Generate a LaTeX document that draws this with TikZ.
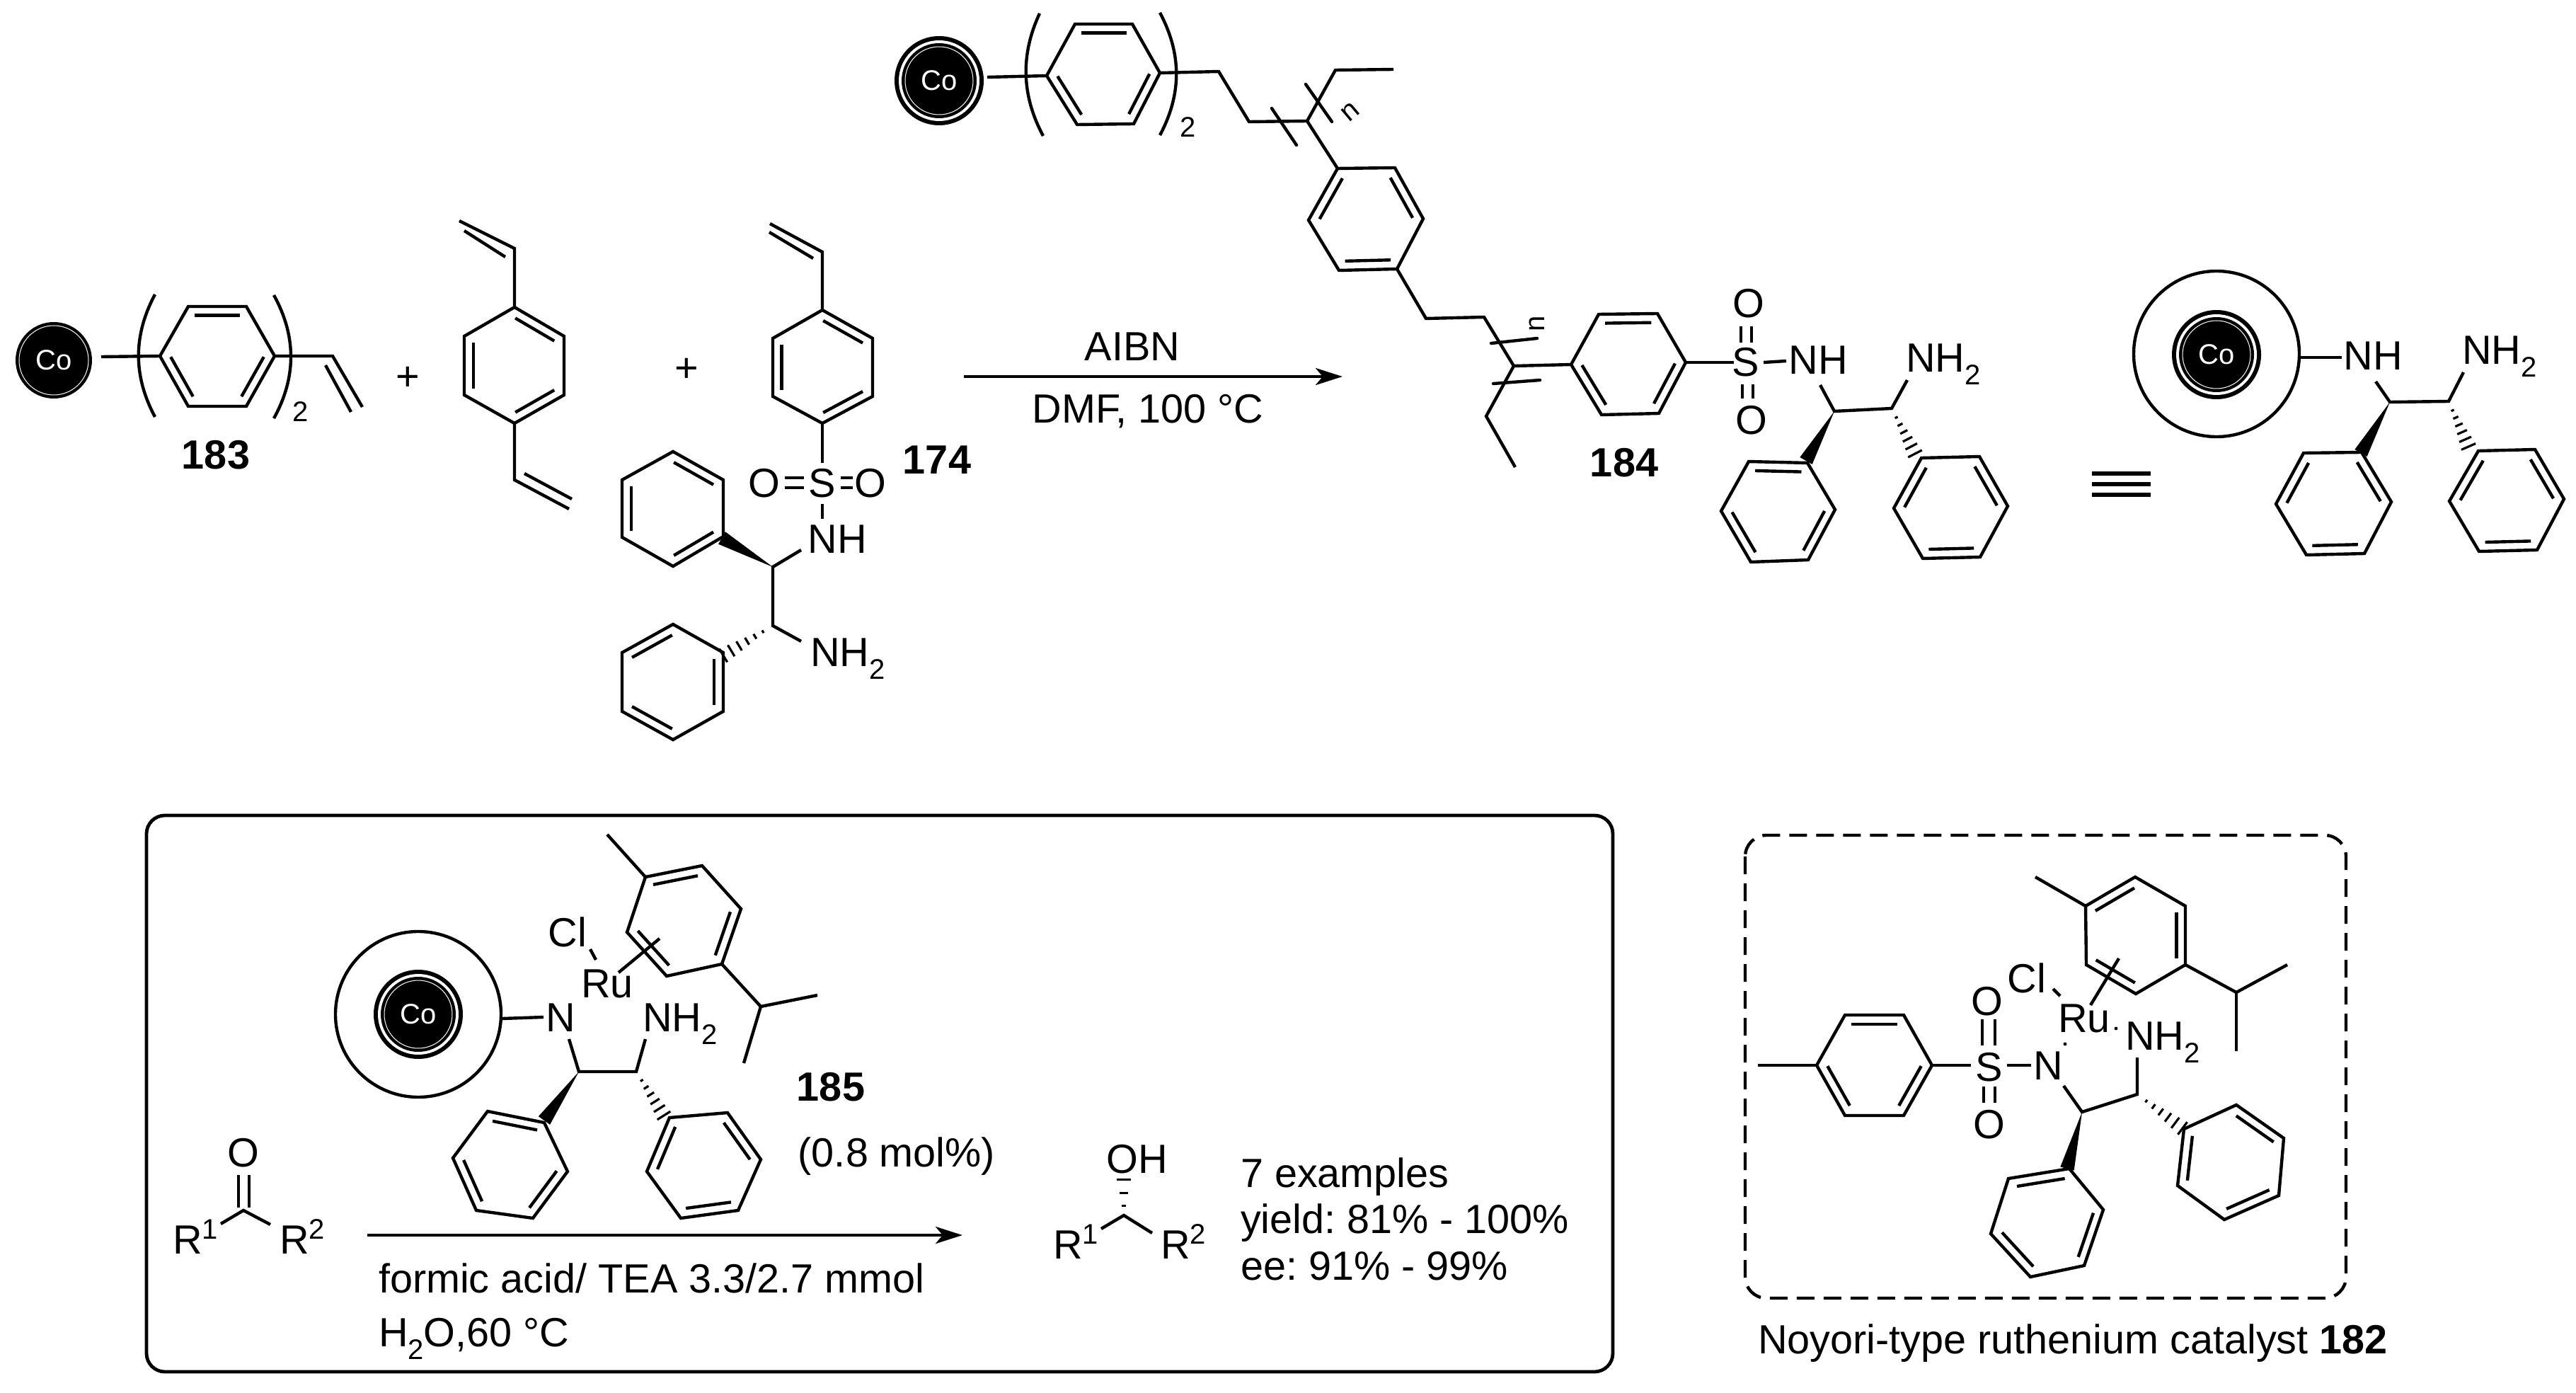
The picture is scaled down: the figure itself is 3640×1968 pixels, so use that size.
\documentclass[tikz,border=0pt]{standalone}
\usepackage{fontspec}
\setmainfont{Liberation Sans}
\usetikzlibrary{calc,arrows.meta}
\frenchspacing
\newcommand{\subtwo}{\raisebox{-9pt}{\fontsize{20}{20}\selectfont 2}}
\newcommand{\suptxt}[1]{\raisebox{10.5pt}{\fontsize{20}{20}\selectfont #1}}
% named points
\newcommand{\pts}[1]{\foreach \n/\x/\y in {#1} {\coordinate (\n) at (\x,\y);}}
% aromatic ring: 6 vertices, double bonds inside edges 1-2, 3-4, 5-6
\newcommand{\ringb}[2]{%
  \foreach \x/\y [count=\i] in {#2} {\coordinate (#1\i) at (\x,\y);}
  \coordinate (#1c) at ($(#11)!.5!(#14)$);
  \draw[bond] (#11)--(#12)--(#13)--(#14)--(#15)--(#16)--cycle;
  \foreach \a/\b in {1/2,3/4,5/6} {
    \draw[bond] ($($(#1\a)!.02!(#1\b)$)!.18!(#1c)$) -- ($($(#1\b)!.02!(#1\a)$)!.18!(#1c)$);
  }}
% wedge and hashed bonds
\newcommand{\wedgeb}[2]{\fill ($(#2)!5pt!90:(#1)$) -- (#1) -- ($(#2)!5pt!-90:(#1)$) -- cycle;}
\newcommand{\hashb}[3][.2,.36,.52,.68,.84,1]{%
  \coordinate (hu) at ($(#3)!5.5pt!90:(#2)$);
  \coordinate (hv) at ($(#3)!5.5pt!-90:(#2)$);
  \foreach \t in {#1} {\draw[line width=1.6pt] ($(#2)!\t!(hu)$) -- ($(#2)!\t!(hv)$);}}
% Co bead
\newcommand{\cobead}[3]{%
  \coordinate (#1) at (#2,#3);
  \fill[black] (#1) circle[radius=31.5pt];
  \fill[white] (#1) circle[radius=28.5pt];
  \fill[black] (#1) circle[radius=26.5pt];
  \draw[white,line width=.5pt] (#1) circle[radius=24pt];
  \node[cotxt] (#1t) at (#1) {Co};}
\begin{document}
\begin{tikzpicture}[x=.5pt,y=-.5pt,
  bond/.style={line width=2.2pt,line join=miter,line cap=butt,black},
  lab/.style={inner sep=0pt,outer sep=0pt,anchor=base,font=\fontsize{28.8}{30}\selectfont,black},
  labl/.style={lab,anchor=base west},
  num/.style={lab,font=\fontsize{28.8}{30}\selectfont\bfseries},
  small/.style={lab,font=\fontsize{20}{20}\selectfont},
  cotxt/.style={inner sep=0pt,text=white,font=\fontsize{20}{20}\selectfont},
  rxn/.style={line width=2.2pt,-{Stealth[length=19pt,width=12pt,inset=5pt]}},
  bigbead/.style={line width=2.2pt,draw=black},
  framebox/.style={line width=2.4pt,rounded corners=13pt,draw=black},
  dashbox/.style={line width=2.2pt,rounded corners=15pt,draw=black,dash pattern=on 12.5pt off 6.5pt}
]
\fill[white] (0,0) rectangle (3640,1968);
\path[use as bounding box] (0,0) rectangle (3640,1968);

%%% 183
\coordinate (cA) at (76,509);
\fill[black] (cA) circle[radius=27pt];
\draw[white,line width=.5pt] (cA) circle[radius=24.5pt];
\node[cotxt] (cAt) at (cA) {Co};
\ringb{a}{266/433,348/433,388/503,348/574,266/574,226/503}
\pts{a0/143/504, p1a/219/416, p1c/188/474, p1d/188/531, p1b/219/589, p2a/387/417, p2c/419/475, p2d/419/533, p2b/387/591, av1/470/503, av2/512/575, av3/460/516, av4/496/582}
\draw[bond] (a0)--(a6);
\draw[bond] (p1a) .. controls (p1c) and (p1d) .. (p1b);
\draw[bond] (p2a) .. controls (p2c) and (p2d) .. (p2b);
\draw[bond] (a3)--(av1)--(av2);
\draw[bond] (av3)--(av4);
\node[small] (two1) at (425,596) {2};
\node[num] (n183) at (305,662) {183};
\node[lab] (plus1) at (576,552) {+};
\node[lab] (plus2) at (970,540) {+};

%%% divinylbenzene
\ringb{b}{727/434,797/475,797/558,727/598,656/558,656/475}
\pts{bt/727/351, bt1/649/312, bt2/714/363, bt3/656/326, bb/727/678, bb1/804/719, bb2/741/669, bb3/808/705}
\draw[bond] (b1)--(bt)--(bt1);
\draw[bond] (bt2)--(bt3);
\draw[bond] (b4)--(bb)--(bb1);
\draw[bond] (bb2)--(bb3);

%%% 174
\ringb{c}{1162/438,1233/478,1233/560,1162/598,1092/560,1092/478}
\pts{ct/1162/356, ct1/1088/316, ct2/1149/365, ct3/1087/328, cs/1162/654, cs1/1162/712, cs2/1162/733,
  cd1/1109/675, cd2/1136/675, cd3/1109/689, cd4/1136/689, cd5/1188/675, cd6/1205/675, cd7/1188/689, cd8/1205/689,
  cC1/1092/801, cC2/1092/884, cn1/1132/777, cn2/1132/906, cw/1020/760, chh/1022/926}
\draw[bond] (c1)--(ct)--(ct1);
\draw[bond] (ct2)--(ct3);
\draw[bond] (c4)--(cs);
\node[lab] (cS) at (1162,702) {S};
\node[lab] (cO1) at (1080,702) {O};
\node[lab] (cO2) at (1230,702) {O};
\node[lab] (cNH) at (1183,781) {NH};
\node[labl] (cNH2) at (1145,941) {NH\subtwo};
\draw[bond] (cd1)--(cd2); \draw[bond] (cd3)--(cd4);
\draw[bond] (cd5)--(cd6); \draw[bond] (cd7)--(cd8);
\draw[bond] (cs1)--(cs2);
\draw[bond] (cn1)--(cC1)--(cC2)--(cn2);
\ringb{d}{951/638,1022/678,1022/758,951/800,879/759,879/678}
\ringb{e}{1022/922,1022/1005,951/1045,879/1005,879/922,951/882}
\wedgeb{cC1}{cw}
\hashb{cC2}{chh}
\node[num] (n174) at (1324,669) {174};

%%% arrow 1
\pts{ar1/1362/532, ar2/1897/532}
\draw[rxn] (ar1)--(ar2);
\node[lab] (aibn) at (1600,510) {AIBN};
\node[lab] (dmf) at (1622,597) {DMF, 100 °C};

%%% 184
\cobead{cB}{1327}{114}
\ringb{f}{1519/34,1600/34,1639/103,1602/175,1522/176,1479/107}
\pts{f0/1395/109, q1a/1469/19, q1c/1442/77, q1d/1443/134, q1b/1474/192, q2a/1639/18, q2c/1670/76, q2d/1670/133, q2b/1639/191,
  g1/1722/101, g2/1765/172, g3/1847/171, g4/1887/99, g5/1969/98,
  t1a/1797/153, t1b/1832/205, t2a/1845/119, t2b/1882/172}
\draw[bond] (f0)--(f6);
\draw[bond] (q1a) .. controls (q1c) and (q1d) .. (q1b);
\draw[bond] (q2a) .. controls (q2c) and (q2d) .. (q2b);
\draw[bond] (f3)--(g1)--(g2)--(g3)--(g4)--(g5);
\draw[bond,line cap=round] (t1a)--(t1b);
\draw[bond,line cap=round] (t2a)--(t2b);
\node[small] (two2) at (1679,194) {2};
\node[small,anchor=center,rotate=40] (nn1) at (1908,158) {n};
\ringb{h}{1890/238,1849/311,1892/382,1974/380,2011/309,1971/237}
\draw[bond] (g3)--(h1);
\pts{k1/2015/450, k2/2097/448, k3/2139/517, k4/2100/588, k5/2141/660,
  t3a/2107/485, t3b/2172/478, t4a/2110/542, t4b/2176/537}
\draw[bond] (h4)--(k1)--(k2)--(k3)--(k4)--(k5);
\draw[bond,line cap=round] (t3a)--(t3b);
\draw[bond,line cap=round] (t4a)--(t4b);
\node[small,anchor=center,rotate=90] (nn2) at (2172,457) {n};
\ringb{m}{2259/444,2342/443,2382/512,2344/584,2263/586,2220/515}
\draw[bond] (k3)--(m6);
\pts{ms/2450/512, md1/2460/461, md2/2460/484, md3/2475/461, md4/2475/484, md5/2462/543, md6/2462/563, md7/2477/543, md8/2477/563,
  mn1/2492/512, mn2/2524/510, mC1/2592/581, mC2/2673/577, mn3/2572/544, mn4/2695/537, mw/2552/651, mh/2706/641}
\draw[bond] (m3)--(ms);
\node[lab] (mS) at (2467,532) {S};
\node[lab] (mO1) at (2471,449) {O};
\node[lab] (mO2) at (2475,613) {O};
\node[lab] (mNH) at (2569,529) {NH};
\node[labl] (mNH2) at (2693,526) {NH\subtwo};
\draw[bond] (md1)--(md2); \draw[bond] (md3)--(md4);
\draw[bond] (md5)--(md6); \draw[bond] (md7)--(md8);
\draw[bond] (mn1)--(mn2);
\draw[bond] (mn3)--(mC1)--(mC2)--(mn4);
\ringb{r}{2554/654,2471/652,2432/722,2474/794,2555/791,2593/720}
\ringb{s}{2715/647,2676/718,2717/789,2798/787,2837/715,2797/645}
\wedgeb{mC1}{mw}
\hashb{mC2}{mh}
\node[num] (n184) at (2295,673) {184};

%%% triple equal
\pts{e1/2956/669, e2/3039/669, e3/2956/684, e4/3039/684, e5/2956/699, e6/3039/699}
\draw[bond,line width=2.6pt] (e1)--(e2);
\draw[bond,line width=2.6pt] (e3)--(e4);
\draw[bond,line width=2.6pt] (e5)--(e6);

%%% right bead
\coordinate (bgC) at (3132,500);
\draw[bigbead] (bgC) circle[radius=58.5pt];
\cobead{cC}{3132}{501}
\pts{u1/3251/505, u2/3309/505, uC1/3377/568, uC2/3460/567, un1/3357/539, un2/3481/526, uw/3336/640, uh/3488/631}
\draw[bond] (u1)--(u2);
\node[lab] (uNH) at (3353,523) {NH};
\node[labl] (uNH2) at (3479,515) {NH\subtwo};
\draw[bond] (un1)--(uC1)--(uC2)--(un2);
\ringb{v}{3255/640,3216/712,3259/784,3341/782,3379/709,3337/639}
\ringb{w}{3502/637,3461/708,3503/779,3585/777,3623/705,3582/635}
\wedgeb{uC1}{uw}
\hashb{uC2}{uh}

%%% framed box
\draw[framebox] (207,1152) rectangle (2279,1938);
\coordinate (bxC) at (591,1433);
\draw[bigbead] (bxC) circle[radius=58.5pt];
\cobead{cD}{591}{1433}
\pts{x1/710/1439, x2/768/1437, xC1/818/1514, xC2/899/1514, xn1/804/1468, xn2/912/1468, xw/769/1583, xh/938/1576,
  xc1/834/1341, xc2/842/1356, xr1/874/1374, xr2/932/1326, xme/858/1179, xi1/1075/1422, xi2/1155/1406, xi3/1051/1502}
\draw[bond] (x1)--(x2);
\node[lab] (xN) at (792,1457) {N};
\node[labl] (xNH2) at (908,1457) {NH\subtwo};
\node[lab] (xRu) at (858,1409) {Ru};
\node[lab] (xCl) at (802,1337) {Cl};
\draw[bond] (xc1)--(xc2);
\draw[bond] (xn1)--(xC1)--(xC2)--(xn2);
\ringb{y}{912/1239,992/1223,1047/1284,1020/1362,942/1379,886/1317}
\draw[bond] (xr1)--(xr2);
\draw[bond] (y1)--(xme);
\draw[bond] (y4)--(xi1)--(xi2);
\draw[bond] (xi1)--(xi3);
\ringb{z}{689/1570,769/1586,802/1655,753/1721,673/1710,640/1636}
\ringb{aa}{946/1579,914/1655,962/1721,1043/1710,1075/1638,1028/1572}
\wedgeb{xC1}{xw}
\hashb{xC2}{xh}
\node[num] (n185) at (1174,1555) {185};
\node[lab] (mol) at (1267,1648) {(0.8 mol\%)};
% ketone
\pts{kC/344/1710, kb1/312/1729, kb2/382/1730, kd1/337/1660, kd2/337/1706, kd3/352/1660, kd4/352/1706}
\node[lab] (kO) at (344,1648) {O};
\draw[bond] (kd1)--(kd2); \draw[bond] (kd3)--(kd4);
\draw[bond] (kb1)--(kC)--(kb2);
\node[labl] (kR1) at (244,1771) {R\suptxt{1}};
\node[labl] (kR2) at (395,1771) {R\suptxt{2}};
% arrow
\pts{br1/519/1745, br2/1360/1745}
\draw[rxn] (br1)--(br2);
\node[labl] (form) at (535,1826) {formic acid/ TEA 3.3/2.7 mmol};
\node[labl] (wat) at (535,1902) {H\subtwo O,60 °C};
% product
\pts{pC/1588/1717, pO/1588/1662, pb1/1556/1736, pb2/1628/1742}
\node[lab] (pOH) at (1607,1657) {OH};
\hashb[.24,.58,.92]{pC}{pO}
\draw[bond] (pb1)--(pC)--(pb2);
\node[labl] (pR1) at (1488,1778) {R\suptxt{1}};
\node[labl] (pR2) at (1640,1778) {R\suptxt{2}};
\node[labl] (ex1) at (1753,1677) {7 examples};
\node[labl] (ex2) at (1753,1742) {yield: 81\% - 100\%};
\node[labl] (ex3) at (1753,1808) {ee: 91\% - 99\%};

%%% dashed box: catalyst 182
\draw[dashbox] (2466,1180) rectangle (3315,1834);
\ringb{ta}{2607/1434,2690/1434,2730/1505,2690/1576,2607/1576,2567/1505}
\pts{tm/2484/1505, ts/2785/1505, td1/2801/1440, td2/2801/1477, td3/2819/1440, td4/2819/1477, td5/2803/1535, td6/2803/1558, td7/2819/1535, td8/2819/1558,
  tn1/2836/1505, tn2/2870/1505, tC1/2942/1571, tC2/3020/1546, tn3/2916/1534, tn4/3020/1494, tw/2921/1651, th/3084/1594,
  tc1/2901/1397, tc2/2911/1407, tr1/2954/1420, tr2/2994/1354, tme/2876/1239, ti1/3160/1402, ti2/3232/1363, ti3/3160/1485, td9/2990/1453, td10/2918/1475}
\draw[bond] (tm)--(ta6);
\draw[bond] (ta3)--(ts);
\node[lab] (tS) at (2811,1527) {S};
\node[lab] (tO1) at (2808,1434) {O};
\node[lab] (tO2) at (2811,1608) {O};
\node[lab] (tN) at (2894,1525) {N};
\node[lab] (tCl) at (2864,1402) {Cl};
\node[lab] (tRu) at (2945,1458) {Ru};
\node[labl] (tNH2) at (3003,1483) {NH\subtwo};
\draw[bond] (td1)--(td2); \draw[bond] (td3)--(td4);
\draw[bond] (td5)--(td6); \draw[bond] (td7)--(td8);
\draw[bond] (tn1)--(tn2);
\draw[bond] (tc1)--(tc2);
\fill (td9) circle[radius=1.2pt];
\fill (td10) circle[radius=1.2pt];
\draw[bond] (tn3)--(tC1)--(tC2)--(tn4);
\ringb{tb}{2947/1280,3017/1239,3088/1280,3088/1363,3018/1404,2948/1363}
\draw[bond] (tr1)--(tr2);
\draw[bond] (tb1)--(tme);
\draw[bond] (tb4)--(ti1)--(ti2);
\draw[bond] (ti1)--(ti3);
\ringb{tc}{2924/1651,2838/1665,2813/1743,2869/1804,2945/1788,2972/1709}
\ringb{td}{3086/1595,3077/1675,3143/1723,3220/1689,3227/1608,3160/1561}
\wedgeb{tC1}{tw}
\hashb{tC2}{th}
\node[labl] (cap) at (2484,1912) {Noyori-type ruthenium catalyst \textbf{182}};
\end{tikzpicture}
\end{document}
